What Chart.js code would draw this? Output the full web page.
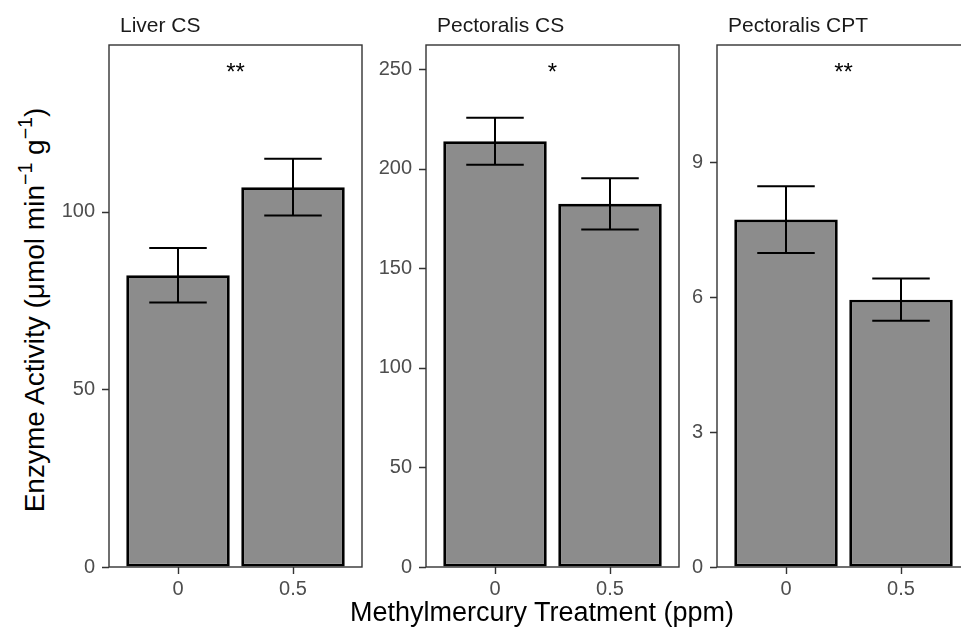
<!DOCTYPE html>
<html>
<head>
<meta charset="utf-8">
<script src="https://cdn.jsdelivr.net/npm/chart.js@4.4.1/dist/chart.umd.min.js"></script>
<style>
  html, body { margin: 0; padding: 0; background: #fff; overflow: hidden; }
  #wrap { position: relative; width: 961px; height: 632px; overflow: hidden; }
  canvas { position: absolute; top: 0; }
  .axis-title {
    position: absolute;
    font-family: "Liberation Sans", Arial, sans-serif;
    font-size: 27px;
    line-height: 27px;
    color: #000;
    white-space: nowrap;
  }
  .axis-title sup { font-size: 0.7em; line-height: 0; vertical-align: 0.6em; }
  #xtitle { left: 542px; top: 599px; transform: translateX(-50%); }
  #ytitle { left: 34px; top: 310px; font-size: 28px; transform: translate(-50%, -50%) rotate(-90deg); }
</style>
</head>
<body>
<div id="wrap">
  <canvas id="c0" width="310" height="632"></canvas>
  <canvas id="c1" width="310" height="632"></canvas>
  <canvas id="c2" width="310" height="632"></canvas>
  <div class="axis-title" id="xtitle">Methylmercury Treatment (ppm)</div>
  <div class="axis-title" id="ytitle">Enzyme Activity (μmol min<sup>−1</sup> g<sup>−1</sup>)</div>
</div>
<script>
// 処理群（x 軸）
const doses = ['0', '0.5'];
const doseX = [1, 2];

const panelTitles = ['Liver CS', 'Pectoralis CS', 'Pectoralis CPT'];
const sigLabels = ['**', '*', '**'];

// 平均値と誤差（上下の幅）
const liverCS = [82.1, 106.9];
const liverCSErr = [7.7, 8.0];
const pectCS = [213.9, 182.4];
const pectCSErr = [11.8, 12.9];
const pectCPT = [7.72, 5.94];
const pectCPTErr = [0.74, 0.47];

// y 軸の目盛りと上限
const yTicksLiver = [0, 50, 100];
const yTicksPectCS = [0, 50, 100, 150, 200, 250];
const yTicksCPT = [0, 3, 6, 9];
const yMax = [146.9, 262.2, 11.6];

const panels = [
    { values: liverCS, errors: liverCSErr, ticks: yTicksLiver },
    { values: pectCS, errors: pectCSErr, ticks: yTicksPectCS },
    { values: pectCPT, errors: pectCPTErr, ticks: yTicksCPT }
];

const plotLeft = [109, 426, 717]; // パネル左端
const yAxisWidth = 55;
const TICK = 7;
const FONT = '"Liberation Sans", Arial, sans-serif';

// エラーバー・枠・目盛り線・ストリップ見出し・有意差記号
function decor(i) {
    const p = panels[i];
    return {
        id: 'decor' + i,
        afterDatasetsDraw(chart) {
            const { ctx, chartArea: a, scales: { x, y } } = chart;
            ctx.save();
            ctx.strokeStyle = '#000';
            ctx.lineWidth = 2;
            p.values.forEach((v, j) => {
                const cx = x.getPixelForValue(doseX[j]);
                const x0 = x.getPixelForValue(doseX[j] - 0.25);
                const x1 = x.getPixelForValue(doseX[j] + 0.25);
                const yHi = y.getPixelForValue(v + p.errors[j]);
                const yLo = y.getPixelForValue(v - p.errors[j]);
                ctx.beginPath();
                ctx.moveTo(cx, yHi); ctx.lineTo(cx, yLo);
                ctx.moveTo(x0, yHi); ctx.lineTo(x1, yHi);
                ctx.moveTo(x0, yLo); ctx.lineTo(x1, yLo);
                ctx.stroke();
            });

            ctx.strokeStyle = '#333';
            ctx.lineWidth = 1.4;
            ctx.strokeRect(a.left, a.top, a.right - a.left, a.bottom - a.top);

            // 目盛り線
            ctx.beginPath();
            x.ticks.forEach(t => {
                const px = Math.round(x.getPixelForValue(t.value)) + 0.5;
                ctx.moveTo(px, a.bottom); ctx.lineTo(px, a.bottom + TICK);
            });
            y.ticks.forEach(t => {
                const py = Math.round(y.getPixelForValue(t.value)) + 0.5;
                ctx.moveTo(a.left, py); ctx.lineTo(a.left - TICK, py);
            });
            ctx.stroke();

            ctx.fillStyle = '#1a1a1a';
            ctx.font = '21px ' + FONT;
            ctx.textAlign = 'left';
            ctx.textBaseline = 'alphabetic';
            ctx.fillText(panelTitles[i], a.left + 11, 32);

            ctx.fillStyle = '#000';
            ctx.font = '24px ' + FONT;
            ctx.textAlign = 'center';
            ctx.fillText(sigLabels[i], (a.left + a.right) / 2, a.top + 35);
            ctx.restore();
        }
    };
}

function makeChart(i) {
    const p = panels[i];
    const canvas = document.getElementById('c' + i);
    canvas.style.left = (plotLeft[i] - yAxisWidth) + 'px';
    return new Chart(canvas, {
        type: 'bar',
        data: {
            datasets: [{
                data: doseX.map((x, j) => ({ x: x, y: p.values[j] })),
                backgroundColor: '#8c8c8c',
                borderColor: '#000',
                borderWidth: 2.8,
                borderSkipped: false,
                barPercentage: 0.9,
                categoryPercentage: 1.0
            }]
        },
        options: {
            responsive: false,
            animation: false,
            layout: { padding: { top: 45, bottom: 25, left: 0, right: 2 } },
            plugins: { legend: { display: false }, tooltip: { enabled: false } },
            scales: {
                x: {
                    type: 'linear',
                    min: 0.4,
                    max: 2.6,
                    offset: false,
                    afterBuildTicks: s => { s.ticks = doseX.map(v => ({ value: v })); },
                    afterFit: s => { s.height = 40; },
                    grid: { offset: false, drawOnChartArea: false, tickLength: TICK, color: 'rgba(0,0,0,0)' },
                    border: { display: false },
                    ticks: {
                        padding: 3,
                        color: '#4d4d4d',
                        font: { family: FONT, size: 20 },
                        maxRotation: 0,
                        callback: v => doses[doseX.indexOf(v)]
                    }
                },
                y: {
                    min: 0,
                    max: yMax[i],
                    afterBuildTicks: s => { s.ticks = p.ticks.map(v => ({ value: v })); },
                    afterFit: s => { s.width = yAxisWidth; },
                    grid: { drawOnChartArea: false, tickLength: TICK, color: 'rgba(0,0,0,0)' },
                    border: { display: false },
                    ticks: {
                        padding: 7,
                        color: '#4d4d4d',
                        font: { family: FONT, size: 20 }
                    }
                }
            }
        },
        plugins: [decor(i)]
    });
}

panels.forEach((p, i) => makeChart(i));
</script>
</body>
</html>
